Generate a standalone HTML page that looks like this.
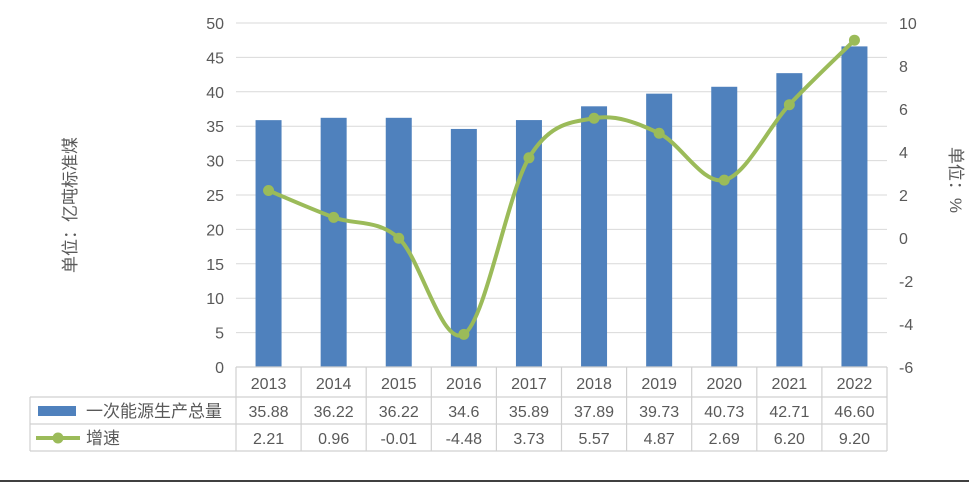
<!DOCTYPE html>
<html><head><meta charset="utf-8"><style>
body{margin:0;background:#fff;}
svg text{font-family:"Liberation Sans","Noto Sans CJK SC",sans-serif;fill:#595959;}
</style></head><body>
<svg id="chart" width="969" height="482" xmlns="http://www.w3.org/2000/svg">
<g id="grid"></g><g id="bars"></g><g id="line"></g><g id="axes"></g><g id="table"></g>
<text transform="translate(76,205) rotate(-90)" text-anchor="middle" font-size="17">单位：亿吨标准煤</text>
<text transform="translate(950,180) rotate(90)" text-anchor="middle" font-size="17">单位：%</text>
<line x1="0" y1="481" x2="969" y2="481" stroke="#000" stroke-width="1.5"/>
</svg>
<script>
const categories=["2013","2014","2015","2016","2017","2018","2019","2020","2021","2022"];
const production=[35.88,36.22,36.22,34.6,35.89,37.89,39.73,40.73,42.71,46.60];
const growth=[2.21,0.96,-0.01,-4.48,3.73,5.57,4.87,2.69,6.20,9.20];
const productionLabels=["35.88","36.22","36.22","34.6","35.89","37.89","39.73","40.73","42.71","46.60"];
const growthLabels=["2.21","0.96","-0.01","-4.48","3.73","5.57","4.87","2.69","6.20","9.20"];
const leftTicks=[0,5,10,15,20,25,30,35,40,45,50];
const rightTicks=[-6,-4,-2,0,2,4,6,8,10];
const NS="http://www.w3.org/2000/svg";
const X0=236,X1=887,Y0=367,Y1=23;
const cw=(X1-X0)/categories.length;
const xc=i=>X0+cw*(i+0.5);
const yL=v=>Y0-(v-0)/(50-0)*(Y0-Y1);
const yR=v=>Y0-(v+6)/(16)*(Y0-Y1);
function mk(p,t,a){const e=document.createElementNS(NS,t);for(const k in a)e.setAttribute(k,a[k]);p.appendChild(e);return e;}
const g=document.getElementById('grid'),b=document.getElementById('bars'),l=document.getElementById('line'),ax=document.getElementById('axes'),tb=document.getElementById('table');
leftTicks.forEach(v=>{
 const ln=mk(g,'line',{x1:X0,x2:X1,y1:yL(v),y2:yL(v),stroke:'#d9d9d9','stroke-width':1});
 
 
 const t=mk(ax,'text',{x:224,y:yL(v)+6,'text-anchor':'end','font-size':16});t.textContent=v;
 
 
});
rightTicks.forEach(v=>{
 const t=mk(ax,'text',{x:899,y:yR(v)+6,'font-size':16});t.textContent=v;
 
 
});
production.forEach((v,i)=>{
 const r=mk(b,'rect',{x:xc(i)-13,y:yL(v),width:26,height:Y0-yL(v),fill:'#4f81bd'});
 
 
});
const pts=growth.map((v,i)=>[xc(i),yR(v)]);
let d='M'+pts[0][0]+','+pts[0][1];
for(let i=0;i<pts.length-1;i++){
 const p0=pts[i-1]||pts[i],p1=pts[i],p2=pts[i+1],p3=pts[i+2]||p2,k=0.5/3*1;
 const c1=[p1[0]+(p2[0]-p0[0])/6,p1[1]+(p2[1]-p0[1])/6],c2=[p2[0]-(p3[0]-p1[0])/6,p2[1]-(p3[1]-p1[1])/6];
 d+=` C${c1[0]},${c1[1]} ${c2[0]},${c2[1]} ${p2[0]},${p2[1]}`;
}
const path=mk(l,'path',{d:d,fill:'none',stroke:'#9bbb59','stroke-width':4});


pts.forEach((p,i)=>{
 const c=mk(l,'circle',{cx:p[0],cy:p[1],r:5.5,fill:'#9bbb59'});
 
 
});
// table
const rows=[367,397,424,451];
const tl=(x1,y1,x2,y2)=>{const e=mk(tb,'line',{x1,y1,x2,y2,stroke:'#d0d0d0','stroke-width':1.2});};
tl(X0,367,X1,367);
tl(30,397,X1,397);tl(30,424,X1,424);tl(30,451,X1,451);
tl(30,397,30,451);
for(let i=0;i<=categories.length;i++)tl(X0+cw*i,367,X0+cw*i,451);
categories.forEach((c,i)=>{
 const t1=mk(tb,'text',{x:xc(i),y:389,'text-anchor':'middle','font-size':16});t1.textContent=c;
 
 
 const t2=mk(tb,'text',{x:xc(i),y:417,'text-anchor':'middle','font-size':16});t2.textContent=productionLabels[i];
 
 
 const t3=mk(tb,'text',{x:xc(i),y:444,'text-anchor':'middle','font-size':16});t3.textContent=growthLabels[i];
 
 
});
const lk1=mk(tb,'rect',{x:38,y:406,width:38,height:10,fill:'#4f81bd'});


const lt1=mk(tb,'text',{x:86,y:417,'font-size':17});lt1.textContent='一次能源生产总量';


const lk2=mk(tb,'line',{x1:36,y1:438,x2:80,y2:438,stroke:'#9bbb59','stroke-width':4});


const lk3=mk(tb,'circle',{cx:58,cy:438,r:5.5,fill:'#9bbb59'});


const lt2=mk(tb,'text',{x:86,y:444,'font-size':17});lt2.textContent='增速';


</script>
</body></html>
